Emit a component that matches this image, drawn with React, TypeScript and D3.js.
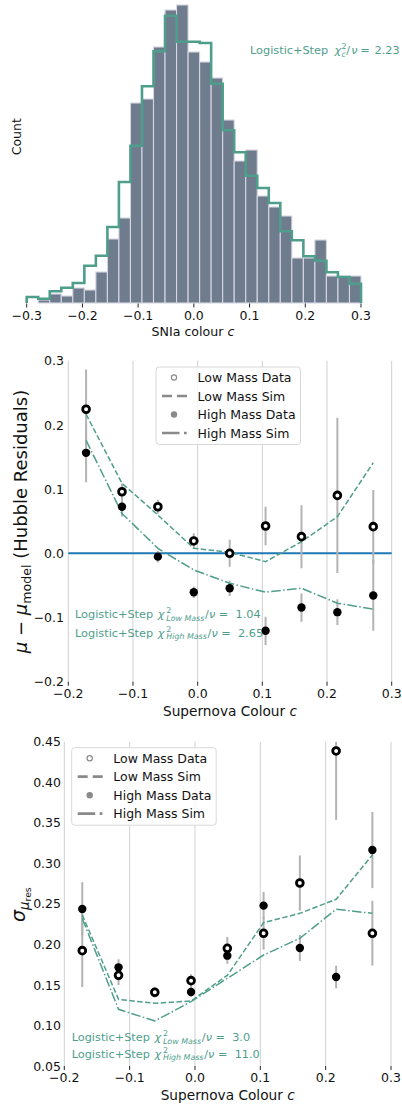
import React from 'react';
import * as d3 from 'd3';

const FONT = "'DejaVu Sans', sans-serif";
const TEAL = '#4f9e8c';
const BAR = '#6f7c8d';
const GRID = '#d0d0d0';
const ERR = '#b3b3b3';
const LEG = '#8a8a8a';

// ---------- Panel 1: colour histogram ----------
const histRange = [-0.3, 0.3];
const histBinCount = 29;
const histTicks = [-0.3, -0.2, -0.1, 0.0, 0.1, 0.2, 0.3];
const dataCounts = [0, 3, 9, 7, 15, 13, 31, 64, 85, 200, 204, 256, 293, 298, 251, 241, 225, 183, 142, 153, 107, 96, 87, 45, 45, 63, 27, 27, 27];
const simCounts = [6, 4.3, 11.7, 15.3, 20, 37.3, 47.3, 76, 121, 157.3, 216.7, 251.7, 287.3, 261.3, 261.3, 260, 219.3, 172.7, 150.7, 127.3, 115, 100, 71.7, 62.7, 46.7, 42.3, 30.7, 26, 19.3];

// ---------- Panels 2 & 3: binned colour ----------
const colourBins = [-0.1725, -0.117, -0.0615, -0.006, 0.0495, 0.105, 0.1605, 0.216, 0.2715];
const colourTicks = [-0.2, -0.1, 0.0, 0.1, 0.2, 0.3];

const resTicks = [-0.2, -0.1, 0.0, 0.1, 0.2, 0.3];
const resLowData = [0.2244, 0.0959, 0.0725, 0.0192, 0.0, 0.0425, 0.0259, 0.0902, 0.0415];
const resLowErr = [0.062, 0.013, 0.011, 0.012, 0.021, 0.03, 0.049, 0.121, 0.057];
const resHighData = [0.1565, 0.0725, -0.0052, -0.0606, -0.0544, -0.1207, -0.0845, -0.0917, -0.0658];
const resHighErr = [0.046, 0.015, 0.009, 0.009, 0.012, 0.022, 0.022, 0.02, 0.055];
const resLowSim = [0.2166, 0.109, 0.0596, 0.0078, 0.0016, -0.013, 0.018, 0.057, 0.141];
const resHighSim = [0.176, 0.062, 0.0078, -0.026, -0.0466, -0.0606, -0.0544, -0.0777, -0.087];

const sigTicks = [0.05, 0.1, 0.15, 0.2, 0.25, 0.3, 0.35, 0.4, 0.45];
const sigLowData = [0.1923, 0.1618, 0.1409, 0.1553, 0.1951, 0.2137, 0.2757, 0.4386, 0.2137];
const sigLowErr = [0.045, 0.012, 0.006, 0.008, 0.014, 0.02, 0.034, 0.085, 0.04];
const sigHighData = [0.2437, 0.1717, 0.1409, 0.1413, 0.1861, 0.2478, 0.1956, 0.1598, 0.3164];
const sigHighErr = [0.033, 0.01, 0.006, 0.006, 0.01, 0.017, 0.016, 0.014, 0.047];
const sigLowSim = [0.2363, 0.1322, 0.1273, 0.1302, 0.1618, 0.2268, 0.2383, 0.2556, 0.3103];
const sigHighSim = [0.232, 0.1199, 0.1055, 0.1294, 0.1581, 0.1869, 0.2075, 0.2433, 0.2383];

const legendLabels = ['Low Mass Data', 'Low Mass Sim', 'High Mass Data', 'High Mass Sim'];

const fmtMinus = (s: string) => s.replace('-', '\u2212');

const FS = 11.3;
const SM = 7.9;

// flowing version (panels 2 & 3)
function ChiText({ x, y, sub, value }: { x: number; y: number; sub: string; value: string }) {
  return (
    <text x={x} y={y} fontSize={FS} fill={TEAL} fontFamily={FONT} style={{ whiteSpace: 'pre' }}>
      <tspan>{'Logistic+Step '}</tspan>
      <tspan fontStyle="italic" dx={1}>{'χ'}</tspan>
      <tspan fontSize={SM} dx={1.8} dy={-5}>{'2'}</tspan>
      <tspan fontSize={SM} fontStyle="italic" dx={-SM * 0.636} dy={7.5}>{sub}</tspan>
      <tspan dy={-2.5} dx={0.8}>{'/'}</tspan>
      <tspan fontStyle="italic">{'ν'}</tspan>
      <tspan>{value}</tspan>
    </text>
  );
}

// absolutely positioned pieces (panel 1)
function ChiTextAbs({ x, y, sub, value }: { x: number; y: number; sub: string; value: string }) {
  return (
    <g fill={TEAL} fontFamily={FONT} fontSize={FS}>
      <text x={x} y={y}>Logistic+Step</text>
      <text x={x + 84.5} y={y} fontStyle="italic">{'χ'}</text>
      <text x={x + 91.6} y={y - 5} fontSize={SM}>2</text>
      <text x={x + 91.6} y={y + 2.5} fontSize={SM} fontStyle="italic">{sub}</text>
      <text x={x + 96.2} y={y}>/</text>
      <text x={x + 101.3} y={y} fontStyle="italic">{'ν'}</text>
      <text x={x + 110.3} y={y}>=</text>
      <text x={x + 124.6} y={y}>{value}</text>
    </g>
  );
}

function Legend({ L, T }: { L: number; T: number }) {
  const rows = [10.5, 29, 47.5, 66].map((d) => T + d);
  const mx = L + 18;
  const lx0 = L + 6;
  const lx1 = L + 31;
  const tx = L + 41.6;
  return (
    <g>
      <rect x={L} y={T} width={144.5} height={77.5} rx={3} fill="white" fillOpacity={0.8} stroke="#d8d8d8" strokeWidth={1} />
      <circle cx={mx} cy={rows[0]} r={2.6} fill="white" stroke={LEG} strokeWidth={1.2} />
      <line x1={lx0} x2={lx1} y1={rows[1]} y2={rows[1]} stroke={LEG} strokeWidth={2.7} strokeDasharray="10,5" />
      <circle cx={mx} cy={rows[2]} r={3.2} fill={LEG} />
      <line x1={lx0} x2={lx1} y1={rows[3]} y2={rows[3]} stroke={LEG} strokeWidth={2.7} strokeDasharray="17.5,4.5,2.7,4.5" />
      {legendLabels.map((t, i) => (
        <text key={t} x={tx} y={rows[i] + 4.5} fontSize={12.5} fontFamily={FONT} fill="#111">{t}</text>
      ))}
    </g>
  );
}

type BinPanelProps = {
  xr: [number, number];
  yr: [number, number];
  ydom: [number, number];
  yTicks: number[];
  yFmt: (v: number) => string;
  yLabelX: number;
  lowData: number[]; lowErr: number[]; highData: number[]; highErr: number[];
  lowSim: number[]; highSim: number[];
  zeroLine: boolean;
  clipId: string;
};

function BinPanel(p: BinPanelProps) {
  const x = d3.scaleLinear().domain([-0.2, 0.3]).range(p.xr);
  const y = d3.scaleLinear().domain(p.ydom).range(p.yr);
  const top = p.yr[1];
  const bottom = p.yr[0];
  const lineGen = d3.line<number>().x((_, i) => x(colourBins[i])).y((d) => y(d));
  return (
    <g>
      <defs>
        <clipPath id={p.clipId}>
          <rect x={p.xr[0] - 10} y={top} width={p.xr[1] - p.xr[0] + 20} height={bottom - top} />
        </clipPath>
      </defs>
      {colourTicks.map((t) => (
        <line key={t} x1={x(t)} x2={x(t)} y1={top} y2={bottom} stroke={GRID} strokeWidth={1} />
      ))}
      {colourTicks.map((t) => (
        <g key={'t' + t}>
          <line x1={x(t)} x2={x(t)} y1={bottom} y2={bottom + 4} stroke="#222" strokeWidth={1} />
          <text x={x(t)} y={bottom + 16.2} textAnchor="middle" fontSize={12.5} fontFamily={FONT} fill="#111">{fmtMinus(d3.format('.1f')(t))}</text>
        </g>
      ))}
      {p.yTicks.map((t) => (
        <text key={'y' + t} x={p.yLabelX} y={y(t) + 4.6} textAnchor="end" fontSize={12.5} fontFamily={FONT} fill="#111">{fmtMinus(p.yFmt(t))}</text>
      ))}
      <g clipPath={`url(#${p.clipId})`}>
        {p.zeroLine && <line x1={p.xr[0]} x2={p.xr[1]} y1={y(0)} y2={y(0)} stroke="#1f77b4" strokeWidth={2} />}
        {colourBins.map((c, i) => (
          <g key={'e' + i}>
            <line x1={x(c)} x2={x(c)} y1={y(p.lowData[i] - p.lowErr[i])} y2={y(p.lowData[i] + p.lowErr[i])} stroke={ERR} strokeWidth={2} />
            <line x1={x(c)} x2={x(c)} y1={y(p.highData[i] - p.highErr[i])} y2={y(p.highData[i] + p.highErr[i])} stroke={ERR} strokeWidth={2} />
          </g>
        ))}
        <path d={lineGen(p.lowSim) || ''} fill="none" stroke={TEAL} strokeWidth={1.5} strokeDasharray="5.5,2.4" />
        <path d={lineGen(p.highSim) || ''} fill="none" stroke={TEAL} strokeWidth={1.5} strokeDasharray="9.6,2.4,1.5,2.4" />
        {colourBins.map((c, i) => (
          <circle key={'h' + i} cx={x(c)} cy={y(p.highData[i])} r={4.2} fill="#000" />
        ))}
        {colourBins.map((c, i) => (
          <circle key={'l' + i} cx={x(c)} cy={y(p.lowData[i])} r={3.4} fill="white" stroke="#000" strokeWidth={2.8} />
        ))}
      </g>
    </g>
  );
}

export default function App() {
  // Panel 1 scales
  const hx = d3.scaleLinear().domain(histRange).range([26.7, 361]);
  const hy = d3.scaleLinear().domain([0, 300]).range([303, 3]);
  const edges = d3.range(histBinCount + 1).map((i) => histRange[0] + (i * (histRange[1] - histRange[0])) / histBinCount);
  const stepPts: [number, number][] = [[edges[0], 0]];
  simCounts.forEach((v, i) => stepPts.push([edges[i], v]));
  stepPts.push([edges[histBinCount], simCounts[histBinCount - 1]]);
  stepPts.push([edges[histBinCount], 0]);
  const stepLine = d3.line<[number, number]>().x((d) => hx(d[0])).y((d) => hy(d[1])).curve(d3.curveStepAfter);

  return (
    <svg width={402} height={1109} style={{ position: 'absolute', left: 0, top: 0, background: 'white' }} fontFamily={FONT}>
      <rect x={0} y={0} width={402} height={1109} fill="white" />
      {/* ---------- Panel 1 ---------- */}
      <g>
        {dataCounts.map((c, i) => (
          c > 0 ? (
            <rect key={i} x={hx(edges[i])} y={hy(c)} width={hx(edges[i + 1]) - hx(edges[i])} height={hy(0) - hy(c)} fill={BAR} stroke="#d6d6e4" strokeWidth={1.1} />
          ) : null
        ))}
        <path d={stepLine(stepPts) || ''} fill="none" stroke={TEAL} strokeWidth={2.6} />
        {histTicks.map((t) => (
          <g key={t}>
            <line x1={hx(t)} x2={hx(t)} y1={303.5} y2={307.5} stroke="#222" strokeWidth={1} />
            <text x={hx(t)} y={319.6} textAnchor="middle" fontSize={12.5} fill="#111">{fmtMinus(d3.format('.1f')(t))}</text>
          </g>
        ))}
        <text x={193} y={336} textAnchor="middle" fontSize={12.6} fill="#111" style={{ whiteSpace: 'pre' }}>
          <tspan>{'SNIa colour '}</tspan><tspan fontStyle="italic">{'c'}</tspan>
        </text>
        <text transform="translate(20.7,136.7) rotate(-90)" textAnchor="middle" fontSize={12.5} fill="#111">Count</text>
        <ChiTextAbs x={250} y={54.3} sub="c" value={'2.23'} />
      </g>

      {/* ---------- Panel 2 ---------- */}
      <BinPanel
        xr={[68.3, 391.7]} yr={[681.7, 360.7]} ydom={[-0.2, 0.3]} yTicks={resTicks}
        yFmt={(v) => d3.format('.1f')(v)} yLabelX={64}
        lowData={resLowData} lowErr={resLowErr} highData={resHighData} highErr={resHighErr}
        lowSim={resLowSim} highSim={resHighSim} zeroLine={true} clipId="clip2"
      />
      <Legend L={156} T={367} />
      <ChiText x={75} y={618.2} sub="Low Mass" value={' =  1.04'} />
      <ChiText x={75} y={636.7} sub="High Mass" value={' =  2.65'} />
      <text x={230} y={716} textAnchor="middle" fontSize={13.7} fill="#111" style={{ whiteSpace: 'pre' }}>
        <tspan>{'Supernova Colour '}</tspan><tspan fontStyle="italic">{'c'}</tspan>
      </text>
      <text transform="translate(27,521.5) rotate(-90)" textAnchor="middle" fontSize={18} fill="#111" style={{ whiteSpace: 'pre' }}>
        <tspan fontStyle="italic">{'μ'}</tspan>
        <tspan>{' − '}</tspan>
        <tspan fontStyle="italic">{'μ'}</tspan>
        <tspan fontSize={12.6} dy={3.6}>{'model'}</tspan>
        <tspan dy={-3.6}>{' (Hubble Residuals)'}</tspan>
      </text>

      {/* ---------- Panel 3 ---------- */}
      <BinPanel
        xr={[64.3, 391]} yr={[1066, 741.7]} ydom={[0.05, 0.45]} yTicks={sigTicks}
        yFmt={(v) => d3.format('.2f')(v)} yLabelX={61}
        lowData={sigLowData} lowErr={sigLowErr} highData={sigHighData} highErr={sigHighErr}
        lowSim={sigLowSim} highSim={sigHighSim} zeroLine={false} clipId="clip3"
      />
      <Legend L={71.7} T={747.7} />
      <ChiText x={71.7} y={1041} sub="Low Mass" value={' =  3.0'} />
      <ChiText x={71.7} y={1057.5} sub="High Mass" value={' =  11.0'} />
      <text x={227.7} y={1099.5} textAnchor="middle" fontSize={13.7} fill="#111" style={{ whiteSpace: 'pre' }}>
        <tspan>{'Supernova Colour '}</tspan><tspan fontStyle="italic">{'c'}</tspan>
      </text>
      <text transform="translate(25,922) rotate(-90)" textAnchor="start" fontSize={19} fill="#111">
        <tspan fontStyle="italic">{'σ'}</tspan>
        <tspan fontSize={13.3} fontStyle="italic" dy={3.6}>{'μ'}</tspan>
        <tspan fontSize={9.3} dy={2.4}>{'res'}</tspan>
      </text>
    </svg>
  );
}
